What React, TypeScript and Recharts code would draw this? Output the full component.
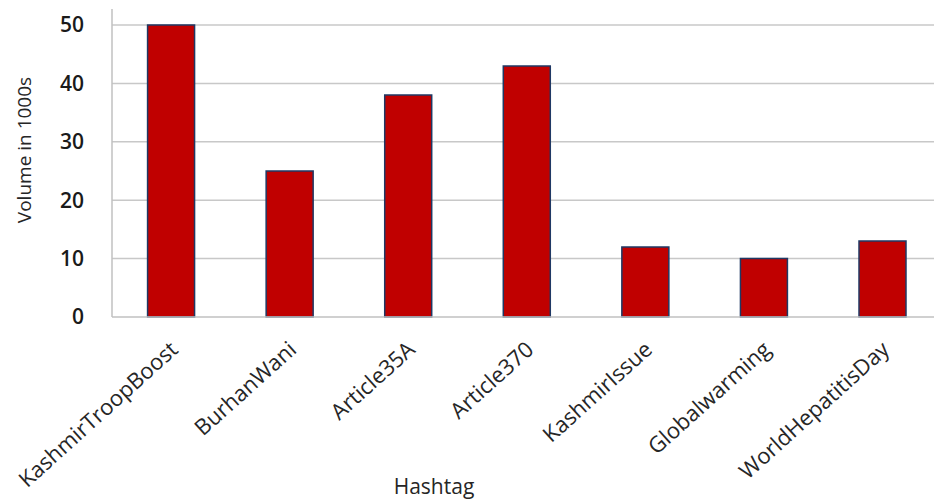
import React from 'react';
import { BarChart, Bar, XAxis, YAxis, CartesianGrid } from 'recharts';

const hashtags = ['KashmirTroopBoost', 'BurhanWani', 'Article35A', 'Article370', 'KashmirIssue', 'Globalwarming', 'WorldHepatitisDay'];
const volumes = [50, 25, 38, 43, 12, 10, 13];
const yTicks = [0, 10, 20, 30, 40, 50];
const Y_MAX = 52.74;

const data = hashtags.map((h, i) => ({ name: h, value: volumes[i] }));

const FONT = '"Open Sans", "Liberation Sans", sans-serif';

const XTick = (props: any) => {
  const { x, y, payload } = props;
  return (
    <g transform={`translate(${x + 4},${y + 22})`}>
      <text transform="rotate(-42)" textAnchor="end" fontFamily={FONT} fontSize={22} fill="#262626" dy={6}>
        {payload.value}
      </text>
    </g>
  );
};

const gridGen = (p: any) => {
  const off = p && p.offset;
  if (!off) return [];
  return yTicks.filter((t) => t > 0).map((t) => off.top + off.height * (1 - t / Y_MAX));
};

export default function App() {
  return (
    <div style={{ position: 'absolute', left: 0, top: 0, width: 934, height: 504, overflow: 'hidden', background: '#fff' }}>
      <BarChart width={942} height={504} data={data} margin={{ top: 9, right: 0, left: 0, bottom: 37 }} barCategoryGap="30%">
        <CartesianGrid vertical={false} stroke="#c8c8c8" strokeWidth={1.5} horizontalCoordinatesGenerator={gridGen} />
        <XAxis
          dataKey="name"
          interval={0}
          height={150}
          tickLine={false}
          axisLine={{ stroke: '#c0c0c0', strokeWidth: 1.5 }}
          tick={<XTick />}
          label={({ viewBox }: any) => (
            <text x={434} y={viewBox.y + viewBox.height + 27} textAnchor="middle" fontFamily={FONT} fontSize={21} fill="#262626">
              Hashtag
            </text>
          )}
        />
        <YAxis
          width={112}
          domain={[0, Y_MAX]}
          ticks={yTicks}
          interval={0}
          tickLine={false}
          axisLine={{ stroke: '#c0c0c0', strokeWidth: 1.5 }}
          tick={{ fontFamily: FONT, fontSize: 21, fill: '#1a1a1a', fontWeight: 600 }}
          tickMargin={22}
          label={() => (
            <text transform={`translate(31,150) rotate(-90)`} textAnchor="middle" fontFamily={FONT} fontSize={19} fill="#262626">
              Volume in 1000s
            </text>
          )}
        />
        <Bar dataKey="value" fill="#c00000" stroke="#1f3864" strokeWidth={1.5} isAnimationActive={false} />
      </BarChart>
    </div>
  );
}
